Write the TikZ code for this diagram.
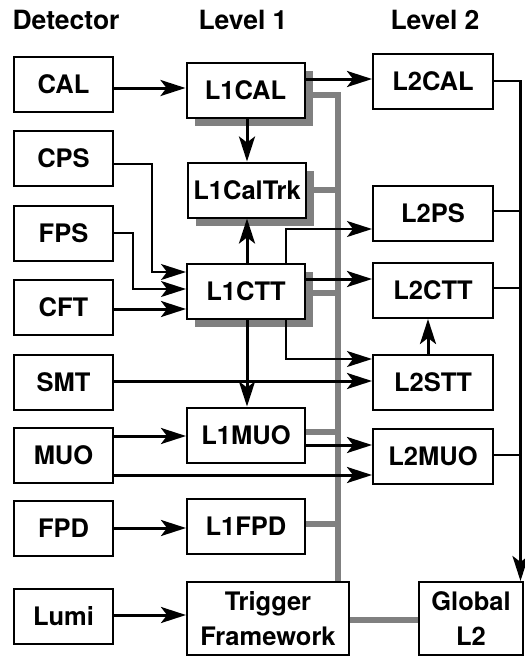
\documentclass[tikz,border=0pt]{standalone}
\usepackage{fontspec}
\setmainfont{TeX Gyre Heros}
\usetikzlibrary{arrows.meta,backgrounds,shadows}
\definecolor{busgray}{RGB}{128,128,128}
\begin{document}
\begin{tikzpicture}[x=1pt,y=-1pt,
  box/.style={draw=black, line width=2pt, fill=white, inner sep=0pt,
    font=\fontsize{25.5}{35}\selectfont\bfseries, align=center},
  det/.style={box, minimum width=99pt, minimum height=55pt},
  lone/.style={box, minimum width=118pt, minimum height=55pt},
  ltwo/.style={box, minimum width=120pt, minimum height=55pt},
  shad/.style={general shadow={fill=busgray, shadow xshift=8pt, shadow yshift=-8pt}},
  hdr/.style={font=\fontsize{26.5}{30}\selectfont\bfseries, inner sep=0pt},
  tip/.style={-{Stealth[length=25pt, width=16pt, inset=6pt]}},
  thick arrow/.style={tip, line width=3pt},
  thin arrow/.style={tip, line width=1.9pt},
  thin line/.style={line width=1.7pt},
  bus/.style={draw=busgray, line width=6.5pt},
]
\useasboundingbox (0,0) rectangle (525,657);

% headers
\node[hdr] (h0) at (66,20) {Detector};
\node[hdr] (h1) at (243,20) {Level 1};
\node[hdr] (h2) at (435,20) {Level 2};

% detector boxes
\node[det] (CAL) at (63.5,84.5) {CAL};
\node[det] (CPS) at (63.5,158.5) {CPS};
\node[det] (FPS) at (63.5,233) {FPS};
\node[det] (CFT) at (63.5,307.5) {CFT};
\node[det] (SMT) at (63.5,382) {SMT};
\node[det] (MUO) at (63.5,455.5) {MUO};
\node[det] (FPD) at (63.5,528.5) {FPD};
\node[det] (Lumi) at (63.5,616.5) {Lumi};

% level 1
\node[lone, shad] (L1CAL) at (245.5,90.5) {L1CAL};
\node[lone, shad] (L1CalTrk) at (247,190) {L1CalTrk};
\node[lone, shad] (L1CTT) at (246,291) {L1CTT};
\node[lone] (L1MUO) at (246,435) {L1MUO};
\node[lone] (L1FPD) at (246,526.5) {L1FPD};
\node[box, minimum width=162pt, minimum height=73pt] (TF) at (268,618.5) {Trigger\\Framework};

% level 2
\node[ltwo] (L2CAL) at (433,81.5) {L2CAL};
\node[ltwo] (L2PS) at (433,213) {L2PS};
\node[ltwo] (L2CTT) at (433,290.5) {L2CTT};
\node[ltwo] (L2STT) at (433,382) {L2STT};
\node[ltwo] (L2MUO) at (433,456.5) {L2MUO};
\node[box, minimum width=104pt, minimum height=73pt] (GL2) at (471,618.5) {Global\\L2};

% gray trigger bus
\begin{pgfonlayer}{background}
  \draw[bus] (L1CAL.east |- 0,95) -- (338,95) -- (TF.north -| 338,0);
  \draw[bus] (L1CalTrk.east |- 0,190) -- (338,190);
  \draw[bus] (L1CTT.east |- 0,293) -- (338,293);
  \draw[bus] (L1MUO.east |- 0,432) -- (338,432);
  \draw[bus] (L1FPD.east |- 0,524) -- (338,524);
  \draw[bus] (TF.east |- 0,620) -- (GL2.west |- 0,620);
\end{pgfonlayer}

% detector to level 1
\draw[thick arrow] (CAL.east |- 0,88) -- (L1CAL.west |- 0,88);
\draw[thin arrow] (CPS.east |- 0,164) -- (152,164) -- (152,272) -- (L1CTT.west |- 0,272);
\draw[thin arrow] (FPS.east |- 0,233) -- (133,233) -- (133,289) -- (L1CTT.west |- 0,289);
\draw[thick arrow] (CFT.east |- 0,309) -- (L1CTT.west |- 0,309);
\draw[thick arrow] (MUO.east |- 0,436) -- (L1MUO.west |- 0,436);
\draw[thick arrow] (FPD.east |- 0,528) -- (L1FPD.west |- 0,528);
\draw[thick arrow] (Lumi.east |- 0,615) -- (TF.west |- 0,615);

% within level 1
\draw[thick arrow] (L1CAL.south -| 247,0) -- (L1CalTrk.north -| 247,0);
\draw[thick arrow] (L1CTT.north -| 247,0) -- (L1CalTrk.south -| 247,0);
\draw[thick arrow] (L1CTT.south -| 247,0) -- (L1MUO.north -| 247,0);

% to level 2
\draw[thick arrow] (L1CAL.east |- 0,79) -- (L2CAL.west |- 0,79);
\draw[thin arrow] (L1CTT.north -| 286,0) -- (286,229) -- (L2PS.west |- 0,229);
\draw[thick arrow] (L1CTT.east |- 0,279) -- (L2CTT.west |- 0,279);
\draw[thin arrow] (L1CTT.south -| 286,0) -- (286,359) -- (L2STT.west |- 0,359);
\draw[thick arrow] (SMT.east |- 0,381) -- (L2STT.west |- 0,381);
\draw[thick arrow] (L2STT.north -| 428,0) -- (L2CTT.south -| 428,0);
\draw[thick arrow] (L1MUO.east |- 0,445) -- (L2MUO.west |- 0,445);
\draw[thick arrow] (MUO.east |- 0,475) -- (L2MUO.west |- 0,475);

% level 2 to global L2
\draw[thin line] (L2CAL.east |- 0,81) -- (521,81);
\draw[thin line] (L2PS.east |- 0,211) -- (521,211);
\draw[thin line] (L2CTT.east |- 0,288) -- (521,288);
\draw[thin line] (L2MUO.east |- 0,455) -- (521,455);
\draw[thick arrow, line width=2.8pt] (520.5,80) -- (GL2.north -| 520.5,0);
\end{tikzpicture}
\end{document}
